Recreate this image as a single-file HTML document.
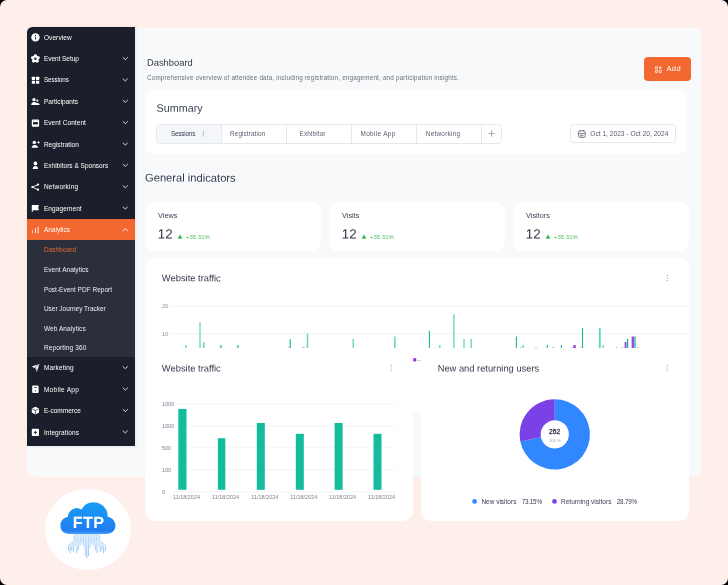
<!DOCTYPE html>
<html><head><meta charset="utf-8"><title>Dashboard</title>
<style>
html,body{margin:0;padding:0;background:#000;}
body{width:728px;height:585px;overflow:hidden;font-family:"Liberation Sans",sans-serif;}
#root{position:relative;width:728px;height:585px;background:#feefea;border-radius:7px;overflow:hidden;}
#root div, #root svg{position:absolute;}
.t{white-space:pre;line-height:1;font-family:"Liberation Sans",sans-serif;transform-origin:0 50%;filter:opacity(0.9999);}
.card{background:#fff;border-radius:9px;}

</style></head>
<body>
<div id="root">
<!-- main panel -->
<div style="left:27px;top:28px;width:674px;height:449px;background:#f8f9fb;border-radius:6px 6px 9px 9px;"></div>
<!-- sidebar -->
<div style="left:27px;top:27px;width:107.5px;height:418.5px;background:#1c1f2b;border-radius:5.5px 0 0 0;box-shadow:1px 0 3px rgba(40,50,80,.10);"></div>
<div style="left:27px;top:219px;width:107.5px;height:21.4px;background:#f36830;"></div>
<div style="left:27px;top:240.4px;width:107.5px;height:117px;background:#2b2f3c;"></div>
<!-- add button -->
<div style="left:644px;top:57px;width:47px;height:24px;background:#f36830;border-radius:4px;"></div>
<!-- summary card -->
<div class="card" style="left:145px;top:89px;width:542px;height:65.3px;"></div>
<!-- tabs -->
<div style="left:156px;top:124px;width:345.5px;height:19.5px;border:0.8px solid #e5e7ee;border-radius:3.5px;box-sizing:border-box;background:#fff;overflow:hidden;">
  <div style="left:0;top:0;width:63.8px;height:19px;background:#f5f6f9;"></div>
  <div style="left:63.5px;top:0;width:0.8px;height:19px;background:#e5e7ee;"></div>
  <div style="left:129.0px;top:0;width:0.8px;height:19px;background:#e5e7ee;"></div>
  <div style="left:194.2px;top:0;width:0.8px;height:19px;background:#e5e7ee;"></div>
  <div style="left:259.2px;top:0;width:0.8px;height:19px;background:#e5e7ee;"></div>
  <div style="left:324.2px;top:0;width:0.8px;height:19px;background:#e5e7ee;"></div>
</div>
<!-- date picker -->
<div style="left:570.2px;top:124.3px;width:105.5px;height:19.2px;border:0.8px solid #e5e7ee;border-radius:3.5px;box-sizing:border-box;background:#fff;"></div>
<!-- stat cards -->
<div class="card" style="left:145px;top:201.5px;width:176px;height:49px;"></div>
<div class="card" style="left:329px;top:201.5px;width:176px;height:49px;"></div>
<div class="card" style="left:513px;top:201.5px;width:176px;height:49px;"></div>
<!-- upper traffic card -->
<div class="card" style="left:145px;top:258px;width:544px;height:152.5px;"></div>
<svg style="left:0;top:0" width="728" height="585" viewBox="0 0 728 585">
<g stroke="#eef0f6" stroke-width="0.8"><line x1="170" y1="306.1" x2="689" y2="306.1"/><line x1="170" y1="333.6" x2="689" y2="333.6"/></g>
<rect x="185.35" y="345.0" width="1.3" height="16.1" fill="#5fd3bc"/>
<rect x="199.40" y="322.1" width="1.2" height="39.0" fill="#5fd3bc"/>
<rect x="203.05" y="342.3" width="1.5" height="18.8" fill="#5fd3bc"/>
<rect x="220.40" y="345.0" width="1.2" height="16.1" fill="#14b999"/>
<rect x="237.40" y="345.0" width="1.2" height="16.1" fill="#14b999"/>
<rect x="289.60" y="339.2" width="1.2" height="21.9" fill="#14b999"/>
<rect x="306.75" y="333.5" width="1.5" height="27.6" fill="#5fd3bc"/>
<rect x="352.55" y="339.0" width="1.3" height="22.1" fill="#5fd3bc"/>
<rect x="394.10" y="336.5" width="1.4" height="24.6" fill="#5fd3bc"/>
<rect x="428.85" y="330.9" width="1.1" height="30.2" fill="#14b999"/>
<rect x="439.15" y="345.0" width="1.3" height="16.1" fill="#5fd3bc"/>
<rect x="453.25" y="314.3" width="1.3" height="46.8" fill="#5fd3bc"/>
<rect x="463.35" y="339.0" width="1.3" height="22.1" fill="#5fd3bc"/>
<rect x="470.55" y="339.0" width="1.3" height="22.1" fill="#5fd3bc"/>
<rect x="515.85" y="336.5" width="1.1" height="24.6" fill="#14b999"/>
<rect x="522.40" y="345.0" width="1.4" height="16.1" fill="#5fd3bc"/>
<rect x="546.75" y="345.0" width="1.1" height="16.1" fill="#14b999"/>
<rect x="560.85" y="345.0" width="1.1" height="16.1" fill="#14b999"/>
<rect x="573.25" y="345.0" width="2.5" height="16.1" fill="#9b4de0"/>
<rect x="581.95" y="327.9" width="1.1" height="33.2" fill="#14b999"/>
<rect x="598.90" y="327.9" width="1.8" height="33.2" fill="#5fd3bc"/>
<rect x="602.55" y="345.0" width="1.3" height="16.1" fill="#5fd3bc"/>
<rect x="624.60" y="342.0" width="2.0" height="19.1" fill="#9b4de0"/>
<rect x="627.00" y="339.0" width="1.2" height="22.1" fill="#14b999"/>
<rect x="631.60" y="336.5" width="2.6" height="24.6" fill="#9b4de0"/>
<rect x="634.40" y="336.5" width="1.2" height="24.6" fill="#14b999"/>
<rect x="219.40" y="346.9" width="1.2" height="14.2" fill="#d2a2f0"/>
<rect x="236.50" y="346.9" width="1.2" height="14.2" fill="#d2a2f0"/>
<rect x="288.30" y="346.9" width="1.4" height="14.2" fill="#d2a2f0"/>
<rect x="302.50" y="346.9" width="2.2" height="14.2" fill="#d2a2f0"/>
<rect x="519.90" y="346.9" width="1.2" height="14.2" fill="#d2a2f0"/>
<rect x="535.30" y="346.9" width="1.4" height="14.2" fill="#d2a2f0"/>
<rect x="552.70" y="346.9" width="1.6" height="14.2" fill="#d2a2f0"/>
<rect x="571.50" y="346.9" width="1.0" height="14.2" fill="#d2a2f0"/>
<rect x="580.50" y="346.9" width="1.0" height="14.2" fill="#d2a2f0"/>
<rect x="615.70" y="346.9" width="1.6" height="14.2" fill="#d2a2f0"/>
<rect x="621.90" y="346.9" width="1.2" height="14.2" fill="#d2a2f0"/>
<rect x="637.25" y="346.9" width="1.5" height="14.2" fill="#d2a2f0"/>
<rect x="413.2" y="358.2" width="3" height="3.2" fill="#9034e6"/><rect x="417" y="360.1" width="4" height="1" fill="#d9c3f5"/>
</svg>
<!-- lower cards -->
<div class="card" style="left:145px;top:348px;width:268px;height:173px;border-radius:0 0 10px 10px;"></div>
<div class="card" style="left:421px;top:348px;width:268px;height:173px;border-radius:0 0 10px 10px;"></div>
<svg style="left:0;top:0" width="728" height="585" viewBox="0 0 728 585">
<g stroke="#eff1f6" stroke-width="0.8">
<line x1="175" y1="403.8" x2="396" y2="403.8"/>
<line x1="175" y1="425.8" x2="396" y2="425.8"/>
<line x1="175" y1="447.8" x2="396" y2="447.8"/>
<line x1="175" y1="469.8" x2="396" y2="469.8"/>
<line x1="175" y1="491.8" x2="396" y2="491.8"/>
</g>
<rect x="178.3" y="408.9" width="8.2" height="80.9" fill="#13bc9c"/>
<rect x="217.9" y="438.2" width="7.4" height="51.6" fill="#13bc9c"/>
<rect x="256.8" y="423.0" width="8.0" height="66.8" fill="#13bc9c"/>
<rect x="295.8" y="433.8" width="8.0" height="56.0" fill="#13bc9c"/>
<rect x="334.6" y="423.0" width="8.0" height="66.8" fill="#13bc9c"/>
<rect x="373.5" y="433.8" width="8.0" height="56.0" fill="#13bc9c"/>
<circle cx="667.3" cy="275.4" r="0.6" fill="#8d93a8"/>
<circle cx="667.3" cy="278" r="0.6" fill="#8d93a8"/>
<circle cx="667.3" cy="280.6" r="0.6" fill="#8d93a8"/>
<circle cx="391.2" cy="365.4" r="0.6" fill="#8d93a8"/>
<circle cx="391.2" cy="368" r="0.6" fill="#8d93a8"/>
<circle cx="391.2" cy="370.6" r="0.6" fill="#8d93a8"/>
<circle cx="667.3" cy="365.4" r="0.6" fill="#8d93a8"/>
<circle cx="667.3" cy="368" r="0.6" fill="#8d93a8"/>
<circle cx="667.3" cy="370.6" r="0.6" fill="#8d93a8"/>
</svg>
<svg style="left:0;top:0" width="728" height="585" viewBox="0 0 728 585">
<path d="M554.75,399.25 A35.15,35.15 0 1 1 520.31,441.41 L540.93,437.21 A14.1,14.1 0 1 0 554.75,420.30 Z" fill="#3087ff"/><path d="M520.31,441.41 A35.15,35.15 0 0 1 554.75,399.25 L554.75,420.30 A14.1,14.1 0 0 0 540.93,437.21 Z" fill="#7a42e6"/>
<circle cx="474.6" cy="501.4" r="2.35" fill="#3087ff"/><circle cx="554.5" cy="501.4" r="2.35" fill="#7a42e6"/>
</svg>
<svg style="left:0;top:0" width="728" height="585" viewBox="0 0 728 585" fill="none">
<!-- Overview: info circle -->
<circle cx="35.45" cy="37.4" r="4.2" fill="#fff"/>
<rect x="35.0" y="36.6" width="0.9" height="2.9" fill="#1c1f2b"/><circle cx="35.45" cy="35.4" r="0.55" fill="#1c1f2b"/>
<!-- Event setup: gear/flower -->
<g fill="#fff">
<circle cx="35.4" cy="58.7" r="3.3"/>
<circle cx="35.4" cy="55.6" r="1.45"/><circle cx="38.35" cy="57.75" r="1.45"/><circle cx="37.2" cy="61.2" r="1.45"/><circle cx="33.6" cy="61.2" r="1.45"/><circle cx="32.45" cy="57.75" r="1.45"/>
</g>
<circle cx="35.4" cy="58.7" r="1.3" fill="#1c1f2b"/><circle cx="35.4" cy="58.7" r="0.45" fill="#9a9ca3"/>
<!-- Sessions: grid -->
<g fill="#fff"><rect x="31.8" y="76.8" width="3.3" height="3.1" rx="0.4"/><rect x="36.0" y="76.8" width="3.3" height="3.1" rx="0.4"/><rect x="31.8" y="80.7" width="3.3" height="3.1" rx="0.4"/><rect x="36.0" y="80.7" width="3.3" height="3.1" rx="0.4"/></g>
<!-- Participants -->
<g fill="#fff"><circle cx="34.0" cy="99.7" r="1.65"/><circle cx="37.3" cy="100.6" r="1.05"/>
<path d="M31.2 104.9 C31.2 103.2 32.6 102.1 34 102.1 C35.2 102.1 36 102.5 36.6 103 C37.6 102.6 39.7 103.2 39.7 104.9 Z"/></g>
<!-- Event content: window/calendar -->
<rect x="31.8" y="119.4" width="7.3" height="7.4" rx="1.1" fill="#fff"/>
<rect x="33.0" y="122.1" width="4.9" height="2.3" fill="#1c1f2b"/>
<rect x="33.5" y="120.4" width="0.8" height="0.8" fill="#1c1f2b" opacity=".7"/><rect x="36.6" y="120.4" width="0.8" height="0.8" fill="#1c1f2b" opacity=".7"/>
<!-- Registration -->
<g fill="#fff"><circle cx="34.3" cy="142.5" r="1.8"/><path d="M31.7 147.8 C31.7 146 33 145.1 34.8 145.1 C36.6 145.1 37.9 146 37.9 147.8 Z"/>
<rect x="37.3" y="141.95" width="2.5" height="0.8"/><rect x="38.15" y="141.1" width="0.8" height="2.5"/></g>
<!-- Exhibitors -->
<g fill="#fff"><rect x="33.6" y="161.6" width="3.6" height="3.7" rx="1.5"/><path d="M32.7 169 C32.7 167.2 33.8 166 35.4 166 C37 166 38.1 167.2 38.1 169 Z"/></g>
<!-- Networking: share -->
<g stroke="#fff" stroke-width="0.9"><line x1="32.4" y1="187.1" x2="38" y2="184.6"/><line x1="32.4" y1="187.1" x2="38" y2="189.7"/></g>
<g fill="#fff"><circle cx="32.4" cy="187.1" r="1.15"/><circle cx="38" cy="184.6" r="1.15"/><circle cx="38" cy="189.7" r="1.15"/></g>
<!-- Engagement: flag -->
<path d="M31.8 205.1 H38.9 L38.2 207.7 L38.9 210.3 H32.7 V211.9 H31.8 Z" fill="#fff"/>
<!-- Analytics bars -->
<rect x="31.95" y="230.1" width="0.9" height="3.1" fill="#fbd0bd"/><rect x="34.95" y="228" width="1.0" height="5.2" fill="#ffe9df"/><rect x="37.4" y="226.7" width="1.6" height="6.6" fill="#fabfa6"/>
<!-- Marketing: send -->
<path d="M31.6 366.6 L39.5 364.1 L36.7 372.1 L35.5 368.6 Z" fill="#fff"/>
<path d="M39.0 364.6 L35.0 367.2 L36.6 370.4" stroke="#1c1f2b" stroke-width="0.55" fill="none"/>
<!-- Mobile app -->
<rect x="32.2" y="385.6" width="6.4" height="7.4" rx="0.9" fill="#fff"/>
<rect x="34.0" y="387.0" width="2.8" height="0.75" fill="#1c1f2b"/><circle cx="35.4" cy="390.9" r="0.55" fill="#1c1f2b"/>
<!-- E-commerce cube -->
<path d="M35.4 406.7 L39 408.6 V412.6 L35.4 414.5 L31.8 412.6 V408.6 Z" fill="#fff"/>
<path d="M32.2 408.8 L35.4 410.5 L38.6 408.8 M35.4 410.5 V414.2" stroke="#1c1f2b" stroke-width="0.7"/>
<!-- Integrations -->
<rect x="31.8" y="428.8" width="7.2" height="7.2" rx="1.0" fill="#fff"/>
<path d="M33.9 432.4 H36.9 M35.4 430.9 V433.9" stroke="#1c1f2b" stroke-width="0.95"/>
<!-- chevrons -->
<g stroke="#dcdde2" stroke-width="0.95" stroke-linecap="round" stroke-linejoin="round">
<path d="M123.1 57.6 L125.3 59.7 L127.5 57.6"/>
<path d="M123.1 78.9 L125.3 81.0 L127.5 78.9"/>
<path d="M123.1 100.3 L125.3 102.4 L127.5 100.3"/>
<path d="M123.1 121.6 L125.3 123.7 L127.5 121.6"/>
<path d="M123.1 143.0 L125.3 145.1 L127.5 143.0"/>
<path d="M123.1 164.3 L125.3 166.4 L127.5 164.3"/>
<path d="M123.1 185.7 L125.3 187.8 L127.5 185.7"/>
<path d="M123.1 207.0 L125.3 209.1 L127.5 207.0"/>
<path d="M123.1 366.6 L125.3 368.7 L127.5 366.6"/>
<path d="M123.1 388.0 L125.3 390.1 L127.5 388.0"/>
<path d="M123.1 409.5 L125.3 411.6 L127.5 409.5"/>
<path d="M123.1 430.9 L125.3 433.0 L127.5 430.9"/>
<path d="M123.1 230.6 L125.3 228.5 L127.5 230.6" stroke="#fff"/>
</g>
<!-- tab plus -->
<path d="M488.4 133.5 H494.6 M491.5 130.4 V136.6" stroke="#8f929c" stroke-width="0.75"/>
<!-- sessions kebab -->
<g fill="#6d7283"><circle cx="203.3" cy="131.3" r="0.55"/><circle cx="203.3" cy="133.5" r="0.55"/><circle cx="203.3" cy="135.7" r="0.55"/></g>
<!-- calendar icon -->
<g stroke="#5d6170" stroke-width="0.8" fill="none">
<rect x="578.4" y="130.9" width="6.8" height="6.5" rx="1.3"/>
<path d="M578.4 133.6 H585.2 M580.3 129.9 V131.6 M583.3 129.9 V131.6"/>
<rect x="580.5" y="135.1" width="2.6" height="0.9" stroke-width="0.5"/>
</g>
<!-- add icon -->
<g stroke="#fff" stroke-width="0.75" fill="none">
<rect x="655.35" y="66.65" width="2.2" height="2.2" rx="0.3"/>
<rect x="655.35" y="70.25" width="2.2" height="2.2" rx="0.3"/>
<rect x="659.15" y="70.25" width="2.2" height="2.2" rx="0.3"/>
<path d="M658.8 67.75 H661.7 M660.25 66.3 V69.2"/>
</g>
<!-- green triangles -->
<g fill="#3cb653">
<path d="M180 234.3 L182.3 238.65 H177.7 Z"/>
<path d="M364 234.3 L366.3 238.65 H361.7 Z"/>
<path d="M548 234.3 L550.3 238.65 H545.7 Z"/>
</g>

</svg>

<!-- FTP circle -->
<div style="left:45.1px;top:488.7px;width:85.6px;height:81.6px;background:#fff;border-radius:50%;"></div>
<svg style="left:0;top:0" width="728" height="585" viewBox="0 0 728 585" fill="none">
<defs>
<linearGradient id="cg" x1="0" y1="502" x2="0" y2="534" gradientUnits="userSpaceOnUse">
<stop offset="0" stop-color="#179ef5"/><stop offset="0.55" stop-color="#1c8af3"/><stop offset="0.9" stop-color="#217df0"/><stop offset="1" stop-color="#4aa0fa"/>
</linearGradient>
<linearGradient id="lg" x1="0" y1="534" x2="0" y2="559" gradientUnits="userSpaceOnUse">
<stop offset="0" stop-color="#9fd0fb"/><stop offset="1" stop-color="#5aa8f6"/>
</linearGradient>
</defs>
<!-- circuit lines -->
<g stroke="url(#lg)" stroke-width="0.75" opacity="0.95">
<path d="M74.0 533 V540.5 L68.6 545.5 V551"/>
<path d="M75.6 533 V541 L70.2 546 V553.5"/>
<path d="M77.2 533 V541.5 L71.8 546.5 V550.5"/>
<path d="M78.8 533 V542 L73.6 547 V552"/>
<path d="M80.4 533 V542.5 L76.8 546.0 V553"/>
<path d="M82.0 533 V543 L78.4 546.5 V550"/>
<path d="M83.6 533 V546"/>
<path d="M85.2 533 V555.5"/>
<path d="M86.8 533 V558.5"/>
<path d="M88.4 533 V556"/>
<path d="M90.0 533 V548"/>
<path d="M91.6 533 V543 L95.4 546.5 V550"/>
<path d="M93.2 533 V542.5 L97.0 546.0 V553"/>
<path d="M94.8 533 V542 L100.2 547 V552"/>
<path d="M96.4 533 V541.5 L101.8 546.5 V550.5"/>
<path d="M98.0 533 V541 L103.6 546 V553.5"/>
<path d="M99.6 533 V540.5 L105.4 545.5 V551"/>
</g>
<!-- cloud -->
<path d="M69.2 533.9 C63.8 533.9 60.4 530.0 60.4 525.4 C60.4 521.0 63.6 517.6 67.8 517.0 C68.2 511.8 72.0 508.3 76.6 508.3 C78.4 508.3 80.0 508.8 81.4 509.7 C83.6 505.2 88.0 502.2 93.3 502.2 C101.2 502.2 107.2 507.9 107.6 515.0 C107.65 515.6 107.65 516.2 107.6 516.8 C111.5 517.4 115.45 520.9 115.45 525.5 C115.45 530.2 111.8 533.9 106.8 533.9 Z" fill="url(#cg)"/>
</svg>


<div class="t" style="left:43.90px;top:35px;font-size:6.5px;color:#ffffff;letter-spacing:0.101px;">Overview</div>
<div class="t" style="left:43.90px;top:56px;font-size:6.5px;color:#ffffff;letter-spacing:-0.042px;">Event Setup</div>
<div class="t" style="left:43.90px;top:77px;font-size:6.3px;color:#ffffff;letter-spacing:-0.095px;">Sessions</div>
<div class="t" style="left:43.90px;top:99px;font-size:6.5px;color:#ffffff;letter-spacing:0.021px;">Participants</div>
<div class="t" style="left:43.90px;top:120px;font-size:6.5px;color:#ffffff;letter-spacing:0.066px;">Event Content</div>
<div class="t" style="left:43.90px;top:142px;font-size:6.5px;color:#ffffff;letter-spacing:0.028px;">Registration</div>
<div class="t" style="left:43.90px;top:163px;font-size:6.5px;color:#ffffff;letter-spacing:0.017px;">Exhibitors &amp; Sponsors</div>
<div class="t" style="left:43.90px;top:184px;font-size:6.5px;color:#ffffff;letter-spacing:0.187px;">Networking</div>
<div class="t" style="left:43.90px;top:206px;font-size:6.5px;color:#ffffff;letter-spacing:0.103px;">Engagement</div>
<div class="t" style="left:43.90px;top:227px;font-size:6.5px;color:#ffffff;">Analytics</div>
<div class="t" style="left:43.90px;top:365px;font-size:6.5px;color:#ffffff;letter-spacing:0.144px;">Marketing</div>
<div class="t" style="left:43.90px;top:387px;font-size:6.5px;color:#ffffff;letter-spacing:0.314px;">Mobile App</div>
<div class="t" style="left:43.90px;top:408px;font-size:6.5px;color:#ffffff;letter-spacing:0.017px;">E-commerce</div>
<div class="t" style="left:43.90px;top:430px;font-size:6.5px;color:#ffffff;letter-spacing:0.094px;">Integrations</div>
<div class="t" style="left:43.90px;top:247px;font-size:6.5px;color:#e8672f;letter-spacing:0.048px;">Dashboard</div>
<div class="t" style="left:43.90px;top:267px;font-size:6.5px;color:#eceef2;letter-spacing:0.037px;">Event Analytics</div>
<div class="t" style="left:43.90px;top:287px;font-size:6.5px;color:#eceef2;letter-spacing:0.009px;">Post-Event PDF Report</div>
<div class="t" style="left:43.90px;top:306px;font-size:6.5px;color:#eceef2;letter-spacing:-0.013px;">User Journey Tracker</div>
<div class="t" style="left:43.90px;top:326px;font-size:6.5px;color:#eceef2;letter-spacing:0.090px;">Web Analytics</div>
<div class="t" style="left:43.90px;top:345px;font-size:6.5px;color:#eceef2;letter-spacing:0.138px;">Reporting 360</div>
<div class="t" style="left:147px;top:58px;font-size:9.34px;color:#2f3341;transform:translate(0.00px,0.84px) rotate(0.03deg);letter-spacing:0.007px;">Dashboard</div>
<div class="t" style="left:147.00px;top:75px;font-size:6.3px;color:#6b6f7c;letter-spacing:0.191px;">Comprehensive overview of attendee data, including registration, engagement, and participation insights.</div>
<div class="t" style="left:666.40px;top:65px;font-size:7.5px;color:#ffffff;letter-spacing:0.420px;">Add</div>
<div class="t" style="left:156px;top:102px;font-size:10.75px;color:#3a3f55;transform:translate(0.60px,0.85px) rotate(0.03deg);">Summary</div>
<div class="t" style="left:170.90px;top:131px;font-size:6.3px;color:#353a4c;letter-spacing:-0.166px;">Sessions</div>
<div class="t" style="left:230.10px;top:131px;font-size:6.4px;color:#5d6272;letter-spacing:0.081px;">Registration</div>
<div class="t" style="left:299.50px;top:131px;font-size:6.4px;color:#5d6272;letter-spacing:0.141px;">Exhibitor</div>
<div class="t" style="left:360.50px;top:131px;font-size:6.4px;color:#5d6272;letter-spacing:0.342px;">Mobile App</div>
<div class="t" style="left:425.80px;top:131px;font-size:6.4px;color:#5d6272;letter-spacing:0.248px;">Networking</div>
<div class="t" style="left:590.30px;top:131px;font-size:6.55px;color:#565b6b;letter-spacing:0.034px;">Oct 1, 2023 - Oct 20, 2024</div>
<div class="t" style="left:145px;top:172px;font-size:11.18px;color:#333a4d;transform:translate(0.00px,0.60px) rotate(0.03deg);">General indicators</div>
<div class="t" style="left:158.10px;top:212px;font-size:7.3px;color:#3a3f51;">Views</div>
<div class="t" style="left:157px;top:227px;font-size:13.3px;color:#2f3445;transform:translate(0.75px,0.61px) rotate(0.03deg);">12</div>
<div class="t" style="left:186.00px;top:234px;font-size:5.99px;color:#4dbd64;">+35.31%</div>
<div class="t" style="left:342.10px;top:212px;font-size:7.3px;color:#3a3f51;">Visits</div>
<div class="t" style="left:341px;top:227px;font-size:13.3px;color:#2f3445;transform:translate(0.75px,0.61px) rotate(0.03deg);">12</div>
<div class="t" style="left:370.00px;top:234px;font-size:5.99px;color:#4dbd64;">+35.31%</div>
<div class="t" style="left:526.10px;top:212px;font-size:7.3px;color:#3a3f51;">Visitors</div>
<div class="t" style="left:525px;top:227px;font-size:13.3px;color:#2f3445;transform:translate(0.75px,0.61px) rotate(0.03deg);">12</div>
<div class="t" style="left:554.00px;top:234px;font-size:5.99px;color:#4dbd64;">+35.31%</div>
<div class="t" style="left:161px;top:274px;font-size:9.37px;color:#353a4c;transform:translate(0.80px,0.35px) rotate(0.03deg);letter-spacing:0.003px;">Website traffic</div>
<div class="t" style="left:162.00px;top:304px;font-size:5.57px;color:#8c91a0;letter-spacing:0.013px;">20</div>
<div class="t" style="left:162.00px;top:332px;font-size:5.57px;color:#8c91a0;letter-spacing:0.013px;">10</div>
<div class="t" style="left:161px;top:364px;font-size:9.37px;color:#353a4c;transform:translate(0.80px,0.45px) rotate(0.03deg);letter-spacing:0.003px;">Website traffic</div>
<div class="t" style="left:161.90px;top:402px;font-size:5.5px;color:#7d8291;">1000</div>
<div class="t" style="left:161.90px;top:424px;font-size:5.5px;color:#7d8291;">1000</div>
<div class="t" style="left:161.90px;top:446px;font-size:5.5px;color:#7d8291;">500</div>
<div class="t" style="left:161.90px;top:468px;font-size:5.5px;color:#7d8291;">100</div>
<div class="t" style="left:161.90px;top:490px;font-size:5.5px;color:#7d8291;">0</div>
<div class="t" style="left:173.00px;top:495px;font-size:5.48px;color:#7d8291;letter-spacing:0.003px;">11/18/2024</div>
<div class="t" style="left:212.10px;top:495px;font-size:5.48px;color:#7d8291;letter-spacing:0.003px;">11/18/2024</div>
<div class="t" style="left:251.30px;top:495px;font-size:5.48px;color:#7d8291;letter-spacing:0.003px;">11/18/2024</div>
<div class="t" style="left:290.30px;top:495px;font-size:5.48px;color:#7d8291;letter-spacing:0.003px;">11/18/2024</div>
<div class="t" style="left:329.10px;top:495px;font-size:5.48px;color:#7d8291;letter-spacing:0.003px;">11/18/2024</div>
<div class="t" style="left:368.00px;top:495px;font-size:5.48px;color:#7d8291;letter-spacing:0.003px;">11/18/2024</div>
<div class="t" style="left:437px;top:364px;font-size:9.32px;color:#353a4c;transform:translate(0.70px,0.44px) rotate(0.03deg);">New and returning users</div>
<div class="t" style="left:548.90px;top:429px;font-size:6.6px;color:#30354a;-webkit-text-stroke:0.3px #30354a;letter-spacing:0.092px;">262</div>
<div class="t" style="left:548.90px;top:439px;font-size:4.16px;color:#9aa0ae;">100 %</div>
<div class="t" style="left:481.40px;top:499px;font-size:6.49px;color:#3a3f51;letter-spacing:0.004px;">New visitors</div>
<div class="t" style="left:521.70px;top:499px;font-size:6.3px;color:#3a3f51;letter-spacing:-0.212px;">73.15%</div>
<div class="t" style="left:561.00px;top:499px;font-size:6.52px;color:#3a3f51;letter-spacing:0.003px;">Returning visitors</div>
<div class="t" style="left:616.80px;top:499px;font-size:6.3px;color:#3a3f51;letter-spacing:-0.192px;">28.79%</div>
<div class="t" style="left:72px;top:513px;font-size:16.2px;color:#ffffff;transform:translate(0.70px,0.90px) rotate(0.03deg);font-weight:700;letter-spacing:0.411px;">FTP</div>
</div>
</body></html>
